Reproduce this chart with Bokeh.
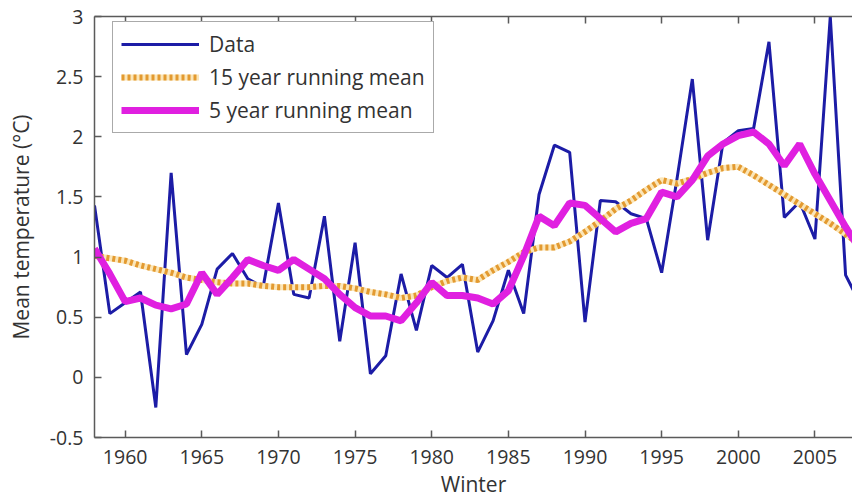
from bokeh.plotting import figure
from bokeh.models import Range1d, LinearAxis, FixedTicker, Legend, LegendItem
from bokeh.embed import file_html
from bokeh.resources import INLINE

years = list(range(1958, 2009))
data = [1.43, 0.53, 0.62, 0.71, -0.25, 1.70, 0.19, 0.44, 0.90, 1.03,
        0.82, 0.75, 1.45, 0.69, 0.66, 1.34, 0.30, 1.12, 0.03, 0.18,
        0.86, 0.39, 0.93, 0.83, 0.94, 0.21, 0.47, 0.89, 0.53, 1.52,
        1.93, 1.87, 0.46, 1.47, 1.46, 1.36, 1.32, 0.87, 1.65, 2.48,
        1.14, 1.95, 2.05, 2.07, 2.79, 1.33, 1.46, 1.15, 3.00, 0.85,
        0.60]
mean15 = [1.01, 0.99, 0.97, 0.93, 0.90, 0.87, 0.83, 0.81, 0.79, 0.78,
          0.78, 0.76, 0.75, 0.75, 0.75, 0.76, 0.76, 0.74, 0.71, 0.69,
          0.66, 0.68, 0.75, 0.80, 0.83, 0.81, 0.89, 0.96, 1.04, 1.08,
          1.08, 1.13, 1.21, 1.30, 1.40, 1.47, 1.56, 1.64, 1.61, 1.65,
          1.70, 1.74, 1.75, 1.68, 1.60, 1.52, 1.44, 1.36, 1.28, 1.19,
          1.10]
mean5 = [1.07, 0.86, 0.63, 0.66, 0.60, 0.57, 0.61, 0.87, 0.69, 0.83,
         0.98, 0.93, 0.89, 0.98, 0.90, 0.82, 0.69, 0.58, 0.51, 0.51,
         0.47, 0.62, 0.79, 0.68, 0.68, 0.66, 0.61, 0.72, 1.01, 1.34,
         1.26, 1.45, 1.43, 1.32, 1.21, 1.28, 1.32, 1.54, 1.50, 1.64,
         1.84, 1.94, 2.01, 2.04, 1.94, 1.76, 1.94, 1.69, 1.47, 1.25,
         1.05]

x_ticks = [1960, 1965, 1970, 1975, 1980, 1985, 1990, 1995, 2000, 2005]
y_ticks = [-0.5, 0, 0.5, 1, 1.5, 2, 2.5, 3]
y_tick_labels = ["-0.5", "0", "0.5", "1", "1.5", "2", "2.5", "3"]
labels = ["Data", "15 year running mean", "5 year running mean"]

FONT = "Open Sans"
AXC = "#5a5a5a"
TXC = "#333333"

p = figure(frame_width=758, frame_height=421,
           min_border_left=94, min_border_right=0, min_border_top=16,
           min_border_bottom=61,
           x_range=Range1d(1958, 2007.45), y_range=Range1d(-0.5, 3),
           output_backend="svg", toolbar_location=None)
p.outline_line_color = None
p.xgrid.visible = False
p.ygrid.visible = False
p.background_fill_color = "white"
p.border_fill_color = "white"

r_data = p.line(years, data, line_color="#1c1ca6", line_width=3)
r_m15a = p.line(years, mean15, line_color="#fbe6b8", line_width=6)
r_m15 = p.line(years, mean15, line_color="#e39a30", line_width=6,
               line_dash="3 3")
r_m5 = p.line(years, mean5, line_color="#e020e0", line_width=7)

for ax in (p.xaxis[0], p.yaxis[0]):
    ax.axis_line_color = AXC
    ax.axis_line_width = 1.5
    ax.major_tick_line_color = AXC
    ax.major_tick_line_width = 1.5
    ax.major_tick_in = 7
    ax.major_tick_out = 0
    ax.minor_tick_line_color = None
    ax.major_label_text_font = FONT
    ax.major_label_text_font_size = "19.5px"
    ax.major_label_text_color = TXC
    ax.axis_label_text_font = FONT
    ax.axis_label_text_font_size = "21px"
    ax.axis_label_text_font_style = "normal"
    ax.axis_label_text_color = TXC

p.xaxis[0].ticker = FixedTicker(ticks=x_ticks)
p.xaxis[0].major_label_standoff = 12
p.xaxis[0].axis_label = "Winter"
p.xaxis[0].axis_label_standoff = 3

p.yaxis[0].ticker = FixedTicker(ticks=y_ticks)
p.yaxis[0].major_label_overrides = {t: s for t, s in zip(y_ticks, y_tick_labels)}
p.yaxis[0].major_label_standoff = 11
p.yaxis[0].axis_label = "Mean temperature (\u00b0C)"
p.yaxis[0].axis_label_standoff = 12

top = LinearAxis(ticker=FixedTicker(ticks=x_ticks))
top.axis_line_color = AXC
top.axis_line_width = 1.5
top.major_tick_line_color = AXC
top.major_tick_line_width = 1.5
top.major_tick_in = 7
top.major_tick_out = 0
top.minor_tick_line_color = None
top.major_label_text_font_size = "1px"
top.major_label_text_alpha = 0
top.major_label_standoff = 0
p.add_layout(top, "above")

legend = Legend(items=[
    LegendItem(label=labels[0], renderers=[r_data]),
    LegendItem(label=labels[1], renderers=[r_m15a, r_m15]),
    LegendItem(label=labels[2], renderers=[r_m5]),
], location=(18, 304))
legend.label_text_font = FONT
legend.label_text_font_size = "21px"
legend.label_text_color = TXC
legend.border_line_color = "#555555"
legend.border_line_width = 1.5
legend.background_fill_color = "white"
legend.background_fill_alpha = 1
legend.padding = 8
legend.margin = 0
legend.spacing = 5
legend.label_height = 26
legend.glyph_height = 26
legend.glyph_width = 78
legend.label_standoff = 10
p.add_layout(legend, "center")

with open("out.html", "w") as f:
    f.write(file_html(p, INLINE))
